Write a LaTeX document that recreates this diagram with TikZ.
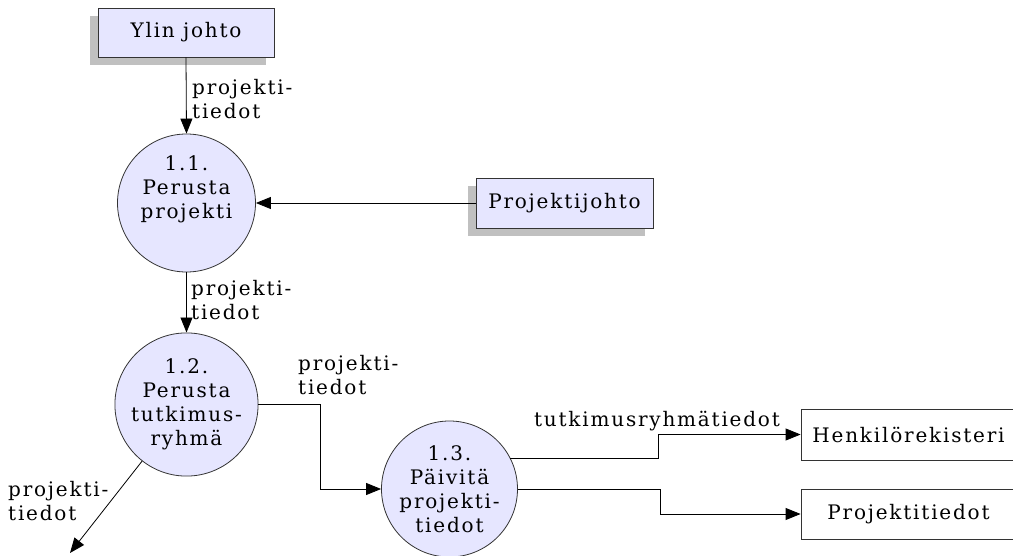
\documentclass[tikz,border=0pt]{standalone}
\usepackage{fontspec}
\setmainfont{DejaVu Serif}[LetterSpace=9]
\usetikzlibrary{arrows.meta,shadows,calc}
\definecolor{lav}{HTML}{E6E6FF}
\definecolor{shadowgray}{HTML}{C0C0C0}
\definecolor{edge}{HTML}{333333}
\begin{document}
\begin{tikzpicture}[x=1pt,y=-1pt,
  every node/.style={font=\fontsize{20}{24}\selectfont},
  entity/.style={draw=edge, line width=0.8pt, fill=lav, minimum width=176pt, minimum height=49pt, inner sep=0pt,
     drop shadow={shadow xshift=-8pt, shadow yshift=-8pt, fill=shadowgray, opacity=1}},
  store/.style={draw=edge, line width=0.8pt, fill=white, minimum width=215pt, minimum height=51pt, inner sep=0pt},
  proc/.style={circle, draw=edge, line width=0.8pt, fill=lav, minimum size=138pt, inner sep=0pt, align=center},
  flow/.style={line width=0.8pt, -{Triangle[length=15pt,width=12pt]}},
  lbl/.style={align=left, anchor=west, inner sep=0pt}]
\useasboundingbox (0,0) rectangle (1013,556);
\clip (0,0) rectangle (1013,556);
\node[entity] (yj) at (186,32.5) {Ylin johto};
\node[entity, minimum width=177pt, minimum height=50pt] (pj) at (564.5,203) {Projektijohto};
\node[proc] (p11) at (186.5,203) {1.1.\\Perusta\\projekti\\\strut};
\node[proc] (p12) at (186.5,404.5) {1.2.\\Perusta\\tutkimus-\\ryhmä};
\node[proc, minimum size=136pt] (p13) at (449.5,489) {1.3.\\Päivitä\\projekti-\\tiedot};
\node[store] (hr) at (908.5,434.5) {Henkilörekisteri};
\node[store, minimum height=50pt] (pt) at (908.5,514) {Projektitiedot};
\coordinate (e12) at (70,553);
\draw[flow] (yj.south) -- (p11.north);
\draw[flow] (pj.west) -- (p11.east);
\draw[flow] (p11.south) -- (p12.north);
\draw[flow] (p12.east) -- ++(62,0) |- (p13.west);
\draw[flow] (p12) -- (e12);
\draw[flow] (p13.27) -- ++(148,0) |- (hr.west);
\draw[flow] (p13.east) -- ++(142,0) |- (pt.west);
\node[lbl] (l1) at (192,99) {projekti-\\tiedot};
\node[lbl] (l2) at (191,300) {projekti-\\tiedot};
\node[lbl] (l3) at (298,375) {projekti-\\tiedot};
\node[lbl] (l4) at (8,501) {projekti-\\tiedot};
\node[inner sep=0pt] (l5) at (657,421) {tutkimusryhmätiedot};
\end{tikzpicture}
\end{document}
